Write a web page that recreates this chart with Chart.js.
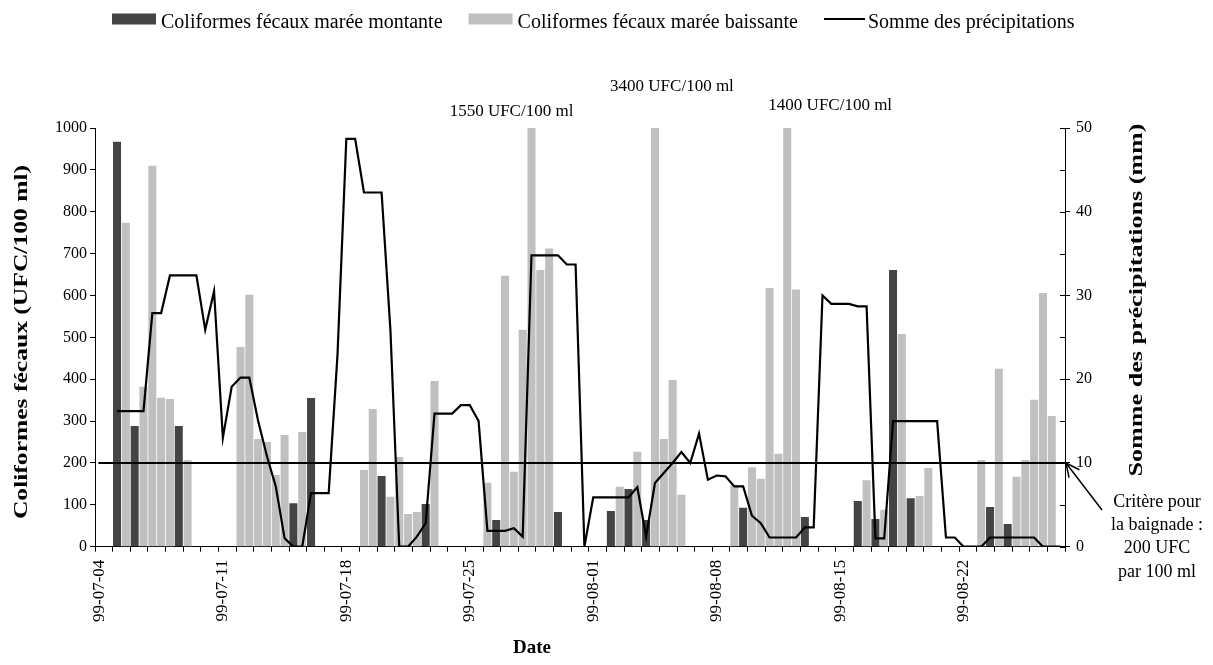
<!DOCTYPE html>
<html>
<head>
<meta charset="utf-8">
<style>
  body { margin: 0; background: #fff; }
  #cadre { width: 1213px; height: 665px; }
</style>
</head>
<body>
<div id="cadre"><canvas id="graphique"></canvas></div>

<script src="https://cdn.jsdelivr.net/npm/chart.js@4.4.1/dist/chart.umd.min.js"></script>
<script>
    // dates (2 prélèvements par jour : marée montante / baissante)
    const dates = [
        '99-07-04', '99-07-05', '99-07-06', '99-07-07', '99-07-08', '99-07-09', '99-07-10',
        '99-07-11', '99-07-12', '99-07-13', '99-07-14', '99-07-15', '99-07-16', '99-07-17',
        '99-07-18', '99-07-19', '99-07-20', '99-07-21', '99-07-22', '99-07-23', '99-07-24',
        '99-07-25', '99-07-26', '99-07-27', '99-07-28', '99-07-29', '99-07-30', '99-07-31',
        '99-08-01', '99-08-02', '99-08-03', '99-08-04', '99-08-05', '99-08-06', '99-08-07',
        '99-08-08', '99-08-09', '99-08-10', '99-08-11', '99-08-12', '99-08-13', '99-08-14',
        '99-08-15', '99-08-16', '99-08-17', '99-08-18', '99-08-19', '99-08-20', '99-08-21',
        '99-08-22', '99-08-23', '99-08-24', '99-08-25', '99-08-26', '99-08-27'
    ];

    // coliformes fécaux (UFC/100 ml), marée montante
    const montante = [
        null, null, 967, null, 288, null, null, null, null, 288,
        null, null, null, null, null, null, null, null, null, null,
        null, null, 104, null, 355, null, null, null, null, null,
        null, null, 169, null, null, null, null, 102, null, null,
        null, null, null, null, null, 64, null, null, null, null,
        null, null, 83, null, null, null, null, null, 85, null,
        138, null, 64, null, null, null, null, null, null, null,
        null, null, null, 93, null, null, null, null, null, null,
        71, null, null, null, null, null, 109, null, 66, null,
        661, null, 116, null, null, null, null, null, null, null,
        null, 95, null, 54, null, null, null, null, null, null
    ];

    // coliformes fécaux (UFC/100 ml), marée baissante
    const baissante = [
        null, null, null, 774, null, 382, 910, 356, 353, null,
        207, null, null, null, null, null, 477, 602, 257, 250,
        171, 267, null, 274, null, null, null, null, null, null,
        183, 329, null, 119, 214, 78, 83, null, 396, null,
        null, null, null, null, 153, null, 647, 179, 518, 1550,
        661, 712, null, null, null, null, null, null, null, 143,
        null, 227, null, 3400, 257, 398, 124, null, null, null,
        null, null, 147, null, 190, 162, 618, 222, 1400, 614,
        null, null, null, null, null, null, null, 159, null, 88,
        null, 508, null, 121, 188, null, null, null, null, null,
        207, null, 425, null, 167, 207, 351, 606, 312, null
    ];

    // somme des précipitations (mm)
    const precipitations = [
        null, null, 16.2, 16.2, 16.2, 16.2, 27.9, 27.9, 32.4, 32.4,
        32.4, 32.4, 25.9, 30.5, 13.0, 19.1, 20.2, 20.2, 15.0, 10.8,
        7.2, 1.0, 0, 0, 6.4, 6.4, 6.4, 22.9, 48.7, 48.7,
        42.3, 42.3, 42.3, 25.9, 0, 0, 1.2, 2.8, 15.9, 15.9,
        15.9, 16.9, 16.9, 15.0, 1.9, 1.9, 1.9, 2.2, 1.2, 34.8,
        34.8, 34.8, 34.8, 33.7, 33.7, 0, 5.9, 5.9, 5.9, 5.9,
        5.9, 7.1, 1.2, 7.6, 8.8, 10.0, 11.3, 10.0, 13.5, 8.0,
        8.5, 8.4, 7.2, 7.2, 3.7, 2.8, 1.1, 1.1, 1.1, 1.1,
        2.3, 2.3, 30.0, 29.0, 29.0, 29.0, 28.7, 28.7, 1.0, 1.0,
        15.0, 15.0, 15.0, 15.0, 15.0, 15.0, 1.1, 1.1, 0, 0,
        0, 1.1, 1.1, 1.1, 1.1, 1.1, 1.1, 0, 0, 0
    ];

    const critere = 200;       // critère pour la baignade
    const plafond = 1000;      // max de l'axe gauche
    const ticksGauche = [0, 1000, 100];
    const ticksDroite = [0, 50, 5];

    const categories = dates.flatMap(d => [d + ' (1)', d + ' (2)']);
    const police = "'Liberation Serif', 'Times New Roman', serif";

    // textes, légende, critère, flèche
    const habillage = {
        id: 'habillage',
        afterDatasetsDraw(chart) {
            const { ctx, chartArea: a, scales } = chart;
            const yc = scales.y.getPixelForValue(critere);
            ctx.save();
            ctx.strokeStyle = '#000';
            ctx.lineWidth = 2;
            ctx.beginPath();
            ctx.moveTo(scales.x.getPixelForValue(0) - 1, yc);
            ctx.lineTo(a.right, yc);
            ctx.stroke();
            ctx.restore();
        },
        afterDraw(chart) {
            const { ctx, chartArea: a, scales } = chart;
            ctx.save();
            ctx.fillStyle = '#000';
            ctx.strokeStyle = '#000';

            // petits traits intérieurs axe droit
            ctx.lineWidth = 1;
            for (let v = ticksDroite[0]; v <= ticksDroite[1]; v += ticksDroite[2]) {
                const y = Math.round(scales.y2.getPixelForValue(v)) + 0.5;
                ctx.beginPath();
                ctx.moveTo(a.right - 5, y);
                ctx.lineTo(a.right, y);
                ctx.stroke();
            }

            // légende
            const ds = chart.data.datasets;
            const items = [ds[1], ds[2], ds[0]];
            ctx.font = '20px ' + police;
            ctx.textBaseline = 'middle';
            ctx.textAlign = 'left';
            let x = 112;
            const yl = 19;
            items.forEach(d => {
                if (d.type === 'line') {
                    ctx.lineWidth = 2;
                    ctx.beginPath();
                    ctx.moveTo(x, yl);
                    ctx.lineTo(x + 41, yl);
                    ctx.stroke();
                    x += 44;
                } else {
                    ctx.fillStyle = d.backgroundColor;
                    ctx.fillRect(x, yl - 5.5, 44, 11);
                    x += 49;
                }
                ctx.fillStyle = '#000';
                ctx.fillText(d.label, x, yl + 4);
                x += ctx.measureText(d.label).width + 26;
            });

            // valeurs hors échelle
            const decalages = [[-20, 112], [17, 87], [43, 106]];
            ctx.font = '17px ' + police;
            ctx.textAlign = 'center';
            let n = 0;
            baissante.forEach((v, i) => {
                if (v !== null && v > plafond) {
                    const [dx, y] = decalages[n++];
                    ctx.fillText(v + ' UFC/100 ml', scales.x.getPixelForValue(i) + dx, y);
                }
            });

            // titres des axes
            ctx.font = 'bold 18px ' + police;
            const vertical = (txt, cx, cy, k) => {
                ctx.save();
                ctx.translate(cx, cy);
                ctx.rotate(-Math.PI / 2);
                ctx.scale(k, 1);
                ctx.fillText(txt, 0, 0);
                ctx.restore();
            };
            vertical('Coliformes fécaux (UFC/100 ml)', 22, 342, 1.42);
            vertical('Somme des précipitations (mm)', 1137, 300, 1.45);
            ctx.font = 'bold 19px ' + police;
            ctx.fillText('Date', 532, 648);

            // critère pour la baignade
            const tip = { x: a.right + 1, y: scales.y.getPixelForValue(critere) };
            const queue = { x: tip.x + 36, y: tip.y + 47 };
            ctx.lineWidth = 1.5;
            ctx.beginPath();
            ctx.moveTo(queue.x, queue.y);
            ctx.lineTo(tip.x, tip.y);
            const ang = Math.atan2(queue.y - tip.y, queue.x - tip.x);
            [-0.45, 0.45].forEach(d => {
                ctx.moveTo(tip.x, tip.y);
                ctx.lineTo(tip.x + 15 * Math.cos(ang + d), tip.y + 15 * Math.sin(ang + d));
            });
            ctx.stroke();

            ctx.font = '18px ' + police;
            ['Critère pour', 'la baignade :', critere + ' UFC', 'par 100 ml'].forEach((t, i) => {
                ctx.fillText(t, 1157, 502 + i * 23.3);
            });
            ctx.restore();
        }
    };

    const ctx = document.getElementById('graphique').getContext('2d');
    const graphique = new Chart(ctx, {
        type: 'bar',
        data: {
            labels: categories,
            datasets: [
                {
                    type: 'line',
                    label: 'Somme des précipitations',
                    data: precipitations,
                    yAxisID: 'y2',
                    borderColor: '#000',
                    backgroundColor: '#000',
                    borderWidth: 2.2,
                    pointRadius: 0,
                    tension: 0,
                    fill: false,
                    order: 0
                },
                {
                    label: 'Coliformes fécaux marée montante',
                    data: montante,
                    yAxisID: 'y',
                    backgroundColor: '#444444',
                    grouped: false,
                    categoryPercentage: 1,
                    barPercentage: 0.91,
                    order: 1
                },
                {
                    label: 'Coliformes fécaux marée baissante',
                    data: baissante,
                    yAxisID: 'y',
                    backgroundColor: '#c0c0c0',
                    grouped: false,
                    categoryPercentage: 1,
                    barPercentage: 0.91,
                    order: 2
                }
            ]
        },
        options: {
            responsive: true,
            maintainAspectRatio: false,
            animation: false,
            layout: { padding: { top: 128, left: 0, right: 0, bottom: 0 } },
            plugins: {
                legend: { display: false },
                tooltip: { enabled: false }
            },
            scales: {
                x: {
                    offset: true,
                    grid: {
                        offset: true,
                        drawOnChartArea: false,
                        tickLength: 5,
                        tickColor: c => (c.index === undefined || c.index % 2 === 0) ? '#000' : 'rgba(0,0,0,0)'
                    },
                    border: { color: '#000', width: 1 },
                    ticks: {
                        autoSkip: false,
                        minRotation: 90,
                        maxRotation: 90,
                        padding: 8,
                        color: '#000',
                        font: { family: police, size: 17 },
                        callback: (v, i) => i % 14 === 0 ? dates[i / 2] : ''
                    },
                    afterFit: s => { s.height = 118.3; }
                },
                y: {
                    position: 'left',
                    min: ticksGauche[0],
                    max: ticksGauche[1],
                    grid: { drawOnChartArea: false, tickLength: 5, tickColor: '#000' },
                    border: { color: '#000', width: 1 },
                    ticks: {
                        stepSize: ticksGauche[2],
                        padding: 3,
                        color: '#000',
                        font: { family: police, size: 16 },
                        callback: v => String(v)
                    },
                    afterFit: s => { s.width = 95; }
                },
                y2: {
                    position: 'right',
                    min: ticksDroite[0],
                    max: ticksDroite[1],
                    grid: {
                        drawOnChartArea: false,
                        tickLength: 5,
                        tickColor: c => (c.tick && c.tick.value % 10 === 0) ? '#000' : 'rgba(0,0,0,0)'
                    },
                    border: { color: '#000', width: 1 },
                    ticks: {
                        stepSize: ticksDroite[2],
                        padding: 6,
                        color: '#000',
                        font: { family: police, size: 16 },
                        callback: v => v % 10 === 0 ? String(v) : ''
                    },
                    afterFit: s => { s.width = 148; }
                }
            }
        },
        plugins: [habillage]
    });
</script>
</body>
</html>
